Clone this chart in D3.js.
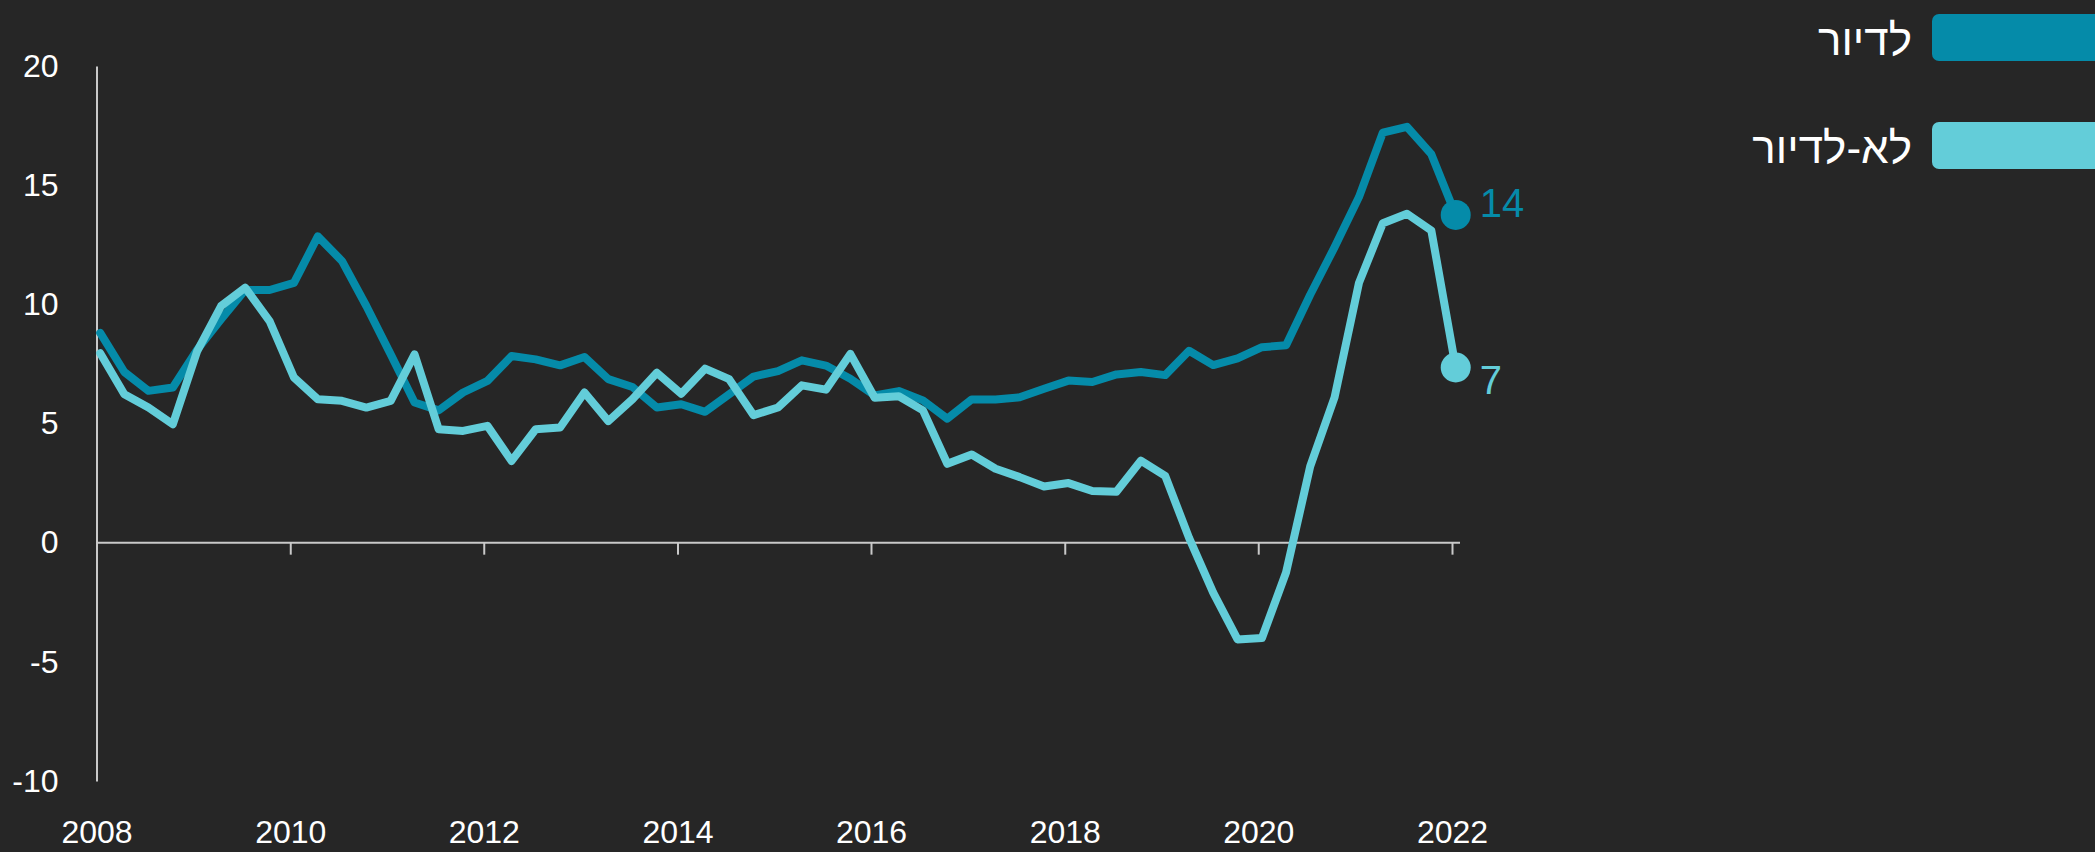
<!DOCTYPE html>
<html>
<head>
<meta charset="utf-8">
<script src="https://cdn.jsdelivr.net/npm/d3@7"></script>
<style>
  html, body { margin: 0; padding: 0; background: #262626; }
  svg { display: block; }
  text { font-family: "Liberation Sans", "DejaVu Sans", sans-serif; }
</style>
</head>
<body>
<div id="figure-container"></div>
<script>
// quarterly observations, 2008Q1 .. 2022Q1
var quarters = [
  '2008Q1','2008Q2','2008Q3','2008Q4','2009Q1','2009Q2','2009Q3','2009Q4',
  '2010Q1','2010Q2','2010Q3','2010Q4','2011Q1','2011Q2','2011Q3','2011Q4',
  '2012Q1','2012Q2','2012Q3','2012Q4','2013Q1','2013Q2','2013Q3','2013Q4',
  '2014Q1','2014Q2','2014Q3','2014Q4','2015Q1','2015Q2','2015Q3','2015Q4',
  '2016Q1','2016Q2','2016Q3','2016Q4','2017Q1','2017Q2','2017Q3','2017Q4',
  '2018Q1','2018Q2','2018Q3','2018Q4','2019Q1','2019Q2','2019Q3','2019Q4',
  '2020Q1','2020Q2','2020Q3','2020Q4','2021Q1','2021Q2','2021Q3','2021Q4',
  '2022Q1'
];

var housing = [
  8.8, 7.16, 6.37, 6.51, 8.1, 9.37, 10.6, 10.6,
  10.9, 12.85, 11.82, 9.93, 7.9, 5.88, 5.55, 6.3,
  6.79, 7.83, 7.69, 7.44, 7.79, 6.86, 6.53, 5.67,
  5.81, 5.49, 6.23, 6.97, 7.2, 7.65, 7.43, 6.88,
  6.18, 6.36, 5.97, 5.2, 6.01, 6.01, 6.1, 6.46,
  6.8, 6.74, 7.06, 7.16, 7.03, 8.05, 7.45, 7.73,
  8.2, 8.28, 10.4, 12.4, 14.5, 17.2, 17.45, 16.3,
  13.75
];

var nonHousing = [
  7.95, 6.23, 5.67, 4.97, 8.04, 9.93, 10.7, 9.3,
  6.93, 6.02, 5.95, 5.67, 5.95, 7.9, 4.76, 4.69,
  4.9, 3.43, 4.76, 4.83, 6.3, 5.1, 6.02, 7.13,
  6.25, 7.3, 6.86, 5.35, 5.67, 6.6, 6.42, 7.92,
  6.08, 6.14, 5.55, 3.31, 3.7, 3.1, 2.75, 2.36,
  2.5, 2.17, 2.14, 3.44, 2.8, 0.2, -2.1, -4.06,
  -4.0, -1.25, 3.2, 6.1, 10.9, 13.4, 13.8, 13.1,
  7.35
];

var seriesNames = ['לדיור', 'לא-לדיור'];
var seriesColors = ['#058ba9', '#63cdd9'];
var yTicks = [-10, -5, 0, 5, 10, 15, 20];
var xTickYears = [2008, 2010, 2012, 2014, 2016, 2018, 2020, 2022];

var fullWidth = 2095;
var fullHeight = 852;
var axisColor = '#c9c9c9';

var parseQuarter = function(s) {
  var yr = +s.slice(0, 4), q = +s.slice(5);
  return new Date(yr, (q - 1) * 3, 15);
};

var dates = quarters.map(parseQuarter);
var series = [housing, nonHousing].map(function(vals, k) {
  return {
    name: seriesNames[k],
    color: seriesColors[k],
    values: vals.map(function(v, i) { return {date: dates[i], value: v}; })
  };
});

var xScale = d3.scaleTime()
  .domain([new Date(2008, 0, 1), new Date(2022, 0, 1)])
  .range([96.5, 1452]);

var yScale = d3.scaleLinear()
  .domain([-10, 20])
  .range([781, 66]);

var svg = d3.select('#figure-container')
  .append('svg')
  .attr('width', fullWidth)
  .attr('height', fullHeight);

svg.append('rect')
  .attr('width', fullWidth)
  .attr('height', fullHeight)
  .attr('fill', '#262626');

// y axis (labels only, plus the vertical line)
var yAxis = d3.axisLeft(yScale)
  .tickValues(yTicks)
  .tickSize(0)
  .tickPadding(38)
  .tickFormat(function(d) { return String(d); });

var gy = svg.append('g')
  .attr('class', 'axis y')
  .attr('transform', 'translate(' + xScale.range()[0] + ',0)')
  .call(yAxis);
gy.select('.domain').attr('stroke', axisColor).attr('stroke-width', 2);
gy.selectAll('text')
  .attr('fill', '#ffffff')
  .style('font-size', '32px');

// zero line with ticks
var xTickDates = xTickYears.map(function(y) { return new Date(y, 0, 1); });
var xAxis = d3.axisBottom(xScale)
  .tickValues(xTickDates)
  .tickSize(12)
  .tickSizeOuter(0)
  .tickFormat('');

var gx = svg.append('g')
  .attr('class', 'axis x')
  .attr('transform', 'translate(0,' + yScale(0) + ')')
  .call(xAxis);
gx.select('.domain').remove();
gx.selectAll('.tick line').attr('stroke', axisColor).attr('stroke-width', 2);
gx.append('line')
  .attr('x1', xScale.range()[0])
  .attr('x2', xScale.range()[1] + 8)
  .attr('stroke', axisColor)
  .attr('stroke-width', 2);

// year labels along the bottom
var xLabels = d3.axisBottom(xScale)
  .tickValues(xTickDates)
  .tickSize(0)
  .tickPadding(0)
  .tickFormat(d3.timeFormat('%Y'));

var gxl = svg.append('g')
  .attr('class', 'axis x-labels')
  .attr('transform', 'translate(0,' + 818 + ')')
  .call(xLabels);
gxl.select('.domain').remove();
gxl.selectAll('text')
  .attr('fill', '#ffffff')
  .attr('dy', '0.78em')
  .style('font-size', '32px');

// lines
var line = d3.line()
  .x(function(d) { return xScale(d.date); })
  .y(function(d) { return yScale(d.value); });

var render = () => {
  var g = svg.append('g').attr('class', 'data-area');

  g.selectAll('path.series')
    .data(series)
    .enter()
      .append('path')
      .attr('class', 'series')
      .attr('fill', 'none')
      .attr('stroke', function(d) { return d.color; })
      .attr('stroke-width', 8)
      .attr('stroke-linejoin', 'round')
      .attr('stroke-linecap', 'round')
      .attr('d', function(d) { return line(d.values); });

  // end dots + value labels
  var ends = series.map(function(s) {
    return {color: s.color, last: s.values[s.values.length - 1]};
  });
  var labelDy = [2, 27];

  g.selectAll('circle.end')
    .data(ends)
    .enter()
      .append('circle')
      .attr('class', 'end')
      .attr('cx', function(d) { return xScale(d.last.date); })
      .attr('cy', function(d) { return yScale(d.last.value); })
      .attr('r', 15)
      .attr('fill', function(d) { return d.color; });

  g.selectAll('text.end')
    .data(ends)
    .enter()
      .append('text')
      .attr('class', 'end')
      .attr('x', function(d) { return xScale(d.last.date) + 24; })
      .attr('y', function(d, i) { return yScale(d.last.value) + labelDy[i]; })
      .attr('fill', function(d) { return d.color; })
      .style('font-size', '40px')
      .text(function(d) { return Math.round(d.last.value); });
};
render();

// legend
var legend = svg.append('g').attr('class', 'legend');
var legendRows = legend.selectAll('g')
  .data(series)
  .enter()
    .append('g')
    .attr('transform', function(d, i) { return 'translate(0,' + (14 + i * 108) + ')'; });

legendRows.append('rect')
  .attr('x', 1932)
  .attr('width', 200)
  .attr('height', 47)
  .attr('rx', 7)
  .attr('fill', function(d) { return d.color; });

legendRows.append('text')
  .attr('x', 1912)
  .attr('y', 41)
  .attr('text-anchor', 'start')
  .attr('direction', 'rtl')
  .attr('fill', '#ffffff')
  .style('font-size', '44px')
  .text(function(d) { return d.name; });
</script>
</body>
</html>
